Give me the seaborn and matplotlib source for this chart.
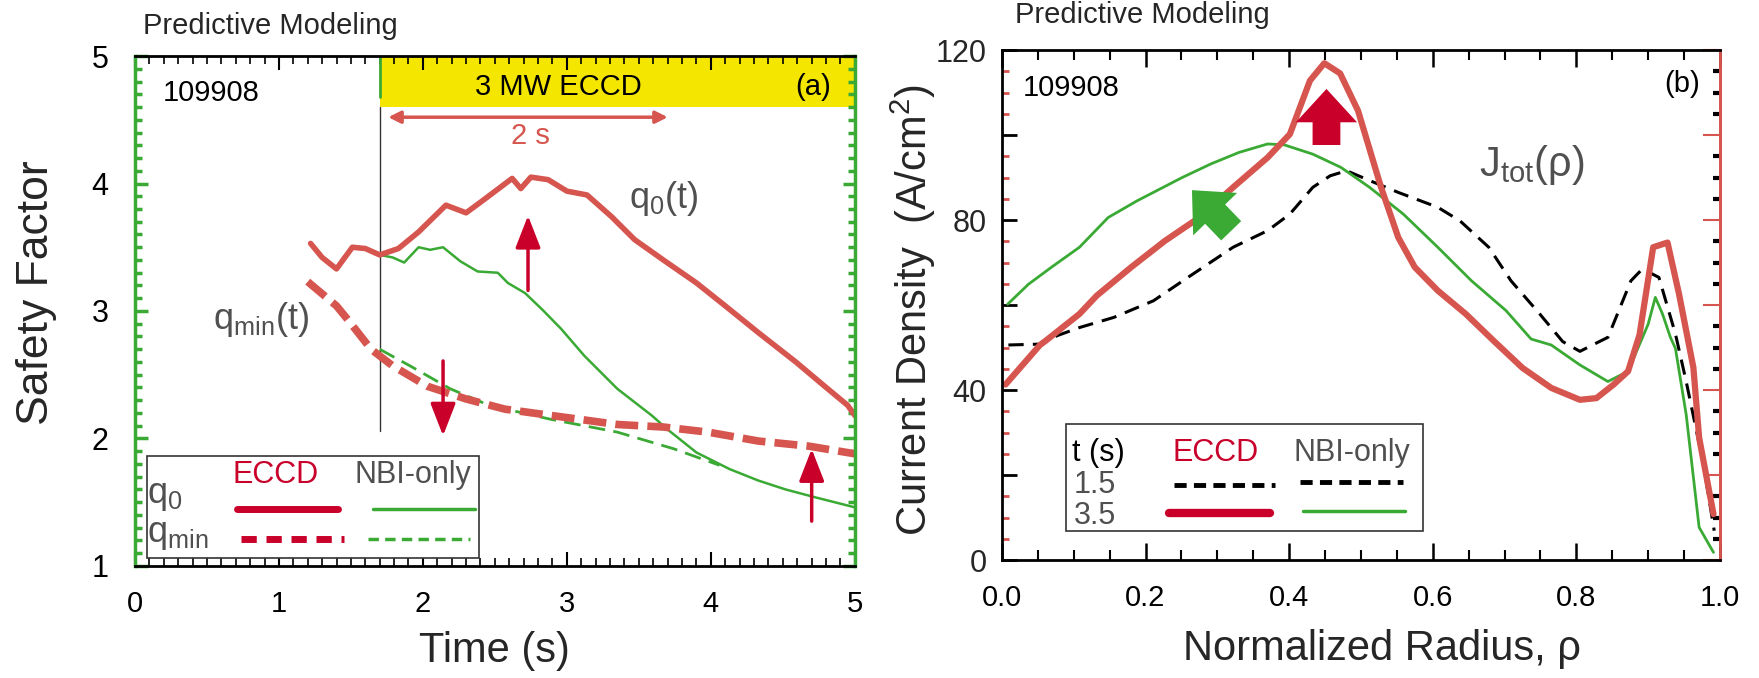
import numpy as np
import pandas as pd
import matplotlib
matplotlib.use("Agg")
import matplotlib.pyplot as plt
import seaborn as sns
from matplotlib.ticker import MultipleLocator, FixedLocator, FormatStrFormatter
from matplotlib.patches import Rectangle

# ---- data ----
# panel (a): safety factor vs time
t_q0_eccd = [1.22, 1.30, 1.40, 1.51, 1.60, 1.70, 1.83, 1.97, 2.16, 2.30, 2.42, 2.62, 2.68,
             2.75, 2.87, 3.00, 3.14, 3.31, 3.47, 3.67, 3.90, 4.10, 4.33, 4.59, 4.79, 4.95, 5.00]
q0_eccd = [3.53, 3.42, 3.33, 3.50, 3.49, 3.44, 3.49, 3.62, 3.83, 3.77, 3.87, 4.04, 3.96,
           4.05, 4.03, 3.94, 3.91, 3.74, 3.56, 3.40, 3.22, 3.04, 2.83, 2.60, 2.41, 2.26, 2.18]
t_q0_nbi = [1.70, 1.79, 1.87, 1.97, 2.05, 2.14, 2.26, 2.38, 2.52, 2.59, 2.71, 2.83, 2.96,
            3.12, 3.35, 3.59, 3.70, 3.90, 4.13, 4.33, 4.52, 4.72, 5.00]
q0_nbi = [3.44, 3.42, 3.38, 3.50, 3.48, 3.50, 3.39, 3.31, 3.30, 3.22, 3.14, 3.01, 2.86,
          2.65, 2.39, 2.18, 2.07, 1.89, 1.76, 1.67, 1.60, 1.54, 1.46]
t_qmin_eccd = [1.20, 1.40, 1.48, 1.64, 1.79, 2.03, 2.30, 2.57, 2.96, 3.35, 3.67, 3.98, 4.33, 4.68, 5.00]
qmin_eccd = [3.23, 3.04, 2.93, 2.70, 2.57, 2.41, 2.31, 2.23, 2.17, 2.11, 2.09, 2.05, 1.98, 1.94, 1.88]
t_qmin_nbi = [1.70, 1.91, 2.19, 2.46, 2.89, 3.35, 3.74, 4.06]
qmin_nbi = [2.70, 2.57, 2.39, 2.26, 2.15, 2.05, 1.92, 1.79]

eccd_on = 1.70
eccd_off = 5.0

# panel (b): current density profiles
rho_eccd35 = [0.005, 0.053, 0.061, 0.108, 0.132, 0.180, 0.227, 0.275, 0.322, 0.370, 0.401, 0.429,
              0.449, 0.471, 0.496, 0.528, 0.552, 0.575, 0.607, 0.646, 0.670, 0.686, 0.725, 0.765,
              0.805, 0.828, 0.852, 0.872, 0.888, 0.907, 0.927, 0.943, 0.963, 0.971, 0.991]
j_eccd35 = [41.3, 50.6, 51.6, 57.9, 62.2, 68.9, 75.1, 80.6, 87.7, 94.7, 100.2, 112.8,
            116.9, 114.5, 105.7, 87.7, 75.9, 68.9, 63.4, 57.9, 54.0, 51.4, 45.2, 40.5,
            37.7, 38.1, 41.3, 44.4, 53.0, 73.6, 74.7, 62.6, 45.3, 28.8, 10.8]
rho_nbi35 = [0.008, 0.037, 0.069, 0.108, 0.148, 0.188, 0.251, 0.291, 0.330, 0.370, 0.393, 0.433,
             0.472, 0.512, 0.559, 0.607, 0.654, 0.702, 0.737, 0.765, 0.805, 0.844, 0.872, 0.900,
             0.910, 0.920, 0.931, 0.938, 0.953, 0.971, 0.991]
j_nbi35 = [60.2, 64.9, 68.9, 73.6, 80.6, 84.5, 90.0, 93.2, 95.9, 97.9, 97.7, 95.5,
           92.4, 87.7, 81.4, 73.6, 65.7, 58.7, 52.0, 50.6, 45.9, 42.0, 44.4, 55.5,
           61.8, 57.9, 52.4, 49.8, 34.2, 7.7, 1.8]
rho_15 = [0.009, 0.053, 0.077, 0.108, 0.156, 0.211, 0.259, 0.322, 0.370, 0.401, 0.433, 0.457,
          0.480, 0.512, 0.552, 0.607, 0.638, 0.678, 0.709, 0.749, 0.781, 0.805, 0.832, 0.844,
          0.876, 0.892, 0.915, 0.938, 0.953, 0.977, 0.992]
j_15 = [50.6, 50.8, 52.8, 54.7, 57.1, 61.0, 66.5, 73.6, 77.5, 81.4, 87.7, 90.4,
        91.6, 89.3, 86.5, 83.0, 79.8, 73.6, 65.7, 57.9, 51.4, 49.1, 51.4, 52.4,
        65.7, 68.5, 66.5, 53.2, 42.0, 22.5, 6.9]

a_yticks = [1, 2, 3, 4, 5]
a_xticks = [0, 1, 2, 3, 4, 5]
b_yticks = [0, 40, 80, 120]
b_xticks = [0.0, 0.2, 0.4, 0.6, 0.8, 1.0]

# ---- style ----
sns.set_theme(style="ticks")
plt.rcParams["font.family"] = ["Liberation Sans", "DejaVu Sans"]
plt.rcParams["mathtext.fontset"] = "custom"
plt.rcParams["mathtext.rm"] = "Liberation Sans"
plt.rcParams["mathtext.it"] = "Liberation Sans"
plt.rcParams["mathtext.default"] = "rm"

RED = "#d6564f"
CRIMSON = "#c8002a"
GREEN = "#3aaa35"
GRAY = "#505050"
YELLOW = "#f5e600"

fig = plt.figure(figsize=(17.59, 6.78), dpi=100)
ax1 = fig.add_axes([0.0767, 0.1652, 0.4093, 0.7522])
ax2 = fig.add_axes([0.5696, 0.1740, 0.4082, 0.7522])

# ---- panel (a) ----
df_a = pd.concat([
    pd.DataFrame({"t": t_q0_eccd, "q": q0_eccd, "s": "q0 ECCD"}),
    pd.DataFrame({"t": t_q0_nbi, "q": q0_nbi, "s": "q0 NBI"}),
    pd.DataFrame({"t": t_qmin_eccd, "q": qmin_eccd, "s": "qmin ECCD"}),
    pd.DataFrame({"t": t_qmin_nbi, "q": qmin_nbi, "s": "qmin NBI"}),
])

ax1.axvspan(eccd_on, eccd_off, ymin=(4.60 - 1) / 4, ymax=1, color=YELLOW, lw=0, zorder=0)
ax1.plot([eccd_on, eccd_on], [2.06, 4.60], color="#333333", lw=1)
ax1.plot([eccd_on, eccd_on], [4.68, 5.0], color=GREEN, lw=2)

sns.lineplot(data=df_a[df_a.s == "qmin NBI"], x="t", y="q", ax=ax1, color=GREEN, lw=2,
             linestyle=(0, (6, 3)), sort=False, estimator=None)
sns.lineplot(data=df_a[df_a.s == "q0 NBI"], x="t", y="q", ax=ax1, color=GREEN, lw=1.8,
             sort=False, estimator=None)
sns.lineplot(data=df_a[df_a.s == "qmin ECCD"], x="t", y="q", ax=ax1, color=RED, lw=5.5,
             linestyle=(0, (3, 1.2)), sort=False, estimator=None)
sns.lineplot(data=df_a[df_a.s == "q0 ECCD"], x="t", y="q", ax=ax1, color=RED, lw=4,
             sort=False, estimator=None)

ax1.set_xlim(0, 5)
ax1.set_ylim(1, 5)

ax1.text(2.94, 4.76, "3 MW ECCD", ha="center", va="center", fontsize=21, color="black")
ax1.text(4.71, 4.76, "(a)", ha="center", va="center", fontsize=21, color="black")
ax1.text(0.19, 4.71, "109908", ha="left", va="center", fontsize=21, color="black")
ax1.annotate("", xy=(1.74, 4.52), xytext=(3.72, 4.52),
             arrowprops=dict(arrowstyle="<|-|>", color=RED, lw=2.5, mutation_scale=18))
ax1.text(2.75, 4.37, "2 s", ha="center", va="center", fontsize=21, color=RED)

ax1.text(3.43, 3.88, r"$\mathrm{q_0(t)}$", ha="left", va="center", fontsize=26, color=GRAY)
ax1.text(0.54, 2.93, r"$\mathrm{q_{min}(t)}$", ha="left", va="center", fontsize=26, color=GRAY)

arr = dict(arrowstyle="-|>,head_length=0.9,head_width=0.35", color=CRIMSON, lw=2.5, mutation_scale=22)
ax1.annotate("", xy=(2.73, 3.77), xytext=(2.73, 3.14), arrowprops=arr)
ax1.annotate("", xy=(2.14, 2.0), xytext=(2.14, 2.63), arrowprops=arr)
ax1.annotate("", xy=(4.70, 1.94), xytext=(4.70, 1.33), arrowprops=arr)

# legend box (a)
ax1.add_patch(Rectangle((0.017, 0.016), 0.461, 0.200, transform=ax1.transAxes,
                        fill=True, facecolor="white", edgecolor="#333333", lw=1.2, zorder=5))
ax1.text(0.196, 0.178, "ECCD", transform=ax1.transAxes, ha="center", va="center",
         fontsize=22, color=CRIMSON, zorder=6)
ax1.text(0.386, 0.178, "NBI-only", transform=ax1.transAxes, ha="center", va="center",
         fontsize=22, color=GRAY, zorder=6)
ax1.text(0.017, 0.138, r"$\mathrm{q_0}$", transform=ax1.transAxes, ha="left", va="center",
         fontsize=26, color=GRAY, zorder=6)
ax1.text(0.017, 0.062, r"$\mathrm{q_{min}}$", transform=ax1.transAxes, ha="left", va="center",
         fontsize=26, color=GRAY, zorder=6)
ax1.plot([0.142, 0.282], [0.112, 0.112], transform=ax1.transAxes, color=CRIMSON, lw=5, zorder=6)
ax1.plot([0.330, 0.472], [0.112, 0.112], transform=ax1.transAxes, color=GREEN, lw=2.5, zorder=6)
ax1.plot([0.148, 0.290], [0.053, 0.053], transform=ax1.transAxes, color=CRIMSON, lw=5,
         linestyle=(0, (2.2, 1.4)), zorder=6)
ax1.plot([0.324, 0.466], [0.053, 0.053], transform=ax1.transAxes, color=GREEN, lw=2.5,
         linestyle=(0, (3, 1.8)), zorder=6)

ax1.xaxis.set_major_locator(FixedLocator(a_xticks))
ax1.xaxis.set_minor_locator(MultipleLocator(0.1))
ax1.yaxis.set_major_locator(FixedLocator(a_yticks))
ax1.yaxis.set_minor_locator(MultipleLocator(0.1))
ax1.tick_params(axis="x", which="both", direction="in", top=True, bottom=True, colors="black",
                labelsize=21, pad=17)
ax1.tick_params(axis="x", which="major", length=10, width=1.5)
ax1.tick_params(axis="x", which="minor", length=6, width=1.2)
ax1.tick_params(axis="y", which="both", direction="in", left=True, right=True, color=GREEN,
                labelcolor="black", labelsize=22, pad=19)
ax1.tick_params(axis="y", which="major", length=9, width=2.5)
ax1.tick_params(axis="y", which="minor", length=5, width=2.5)
for side in ["left", "right"]:
    ax1.spines[side].set_color(GREEN)
    ax1.spines[side].set_linewidth(2.5)
for side in ["top", "bottom"]:
    ax1.spines[side].set_color("black")
    ax1.spines[side].set_linewidth(2)
ax1.set_xlabel("Time (s)", fontsize=30)
ax1.xaxis.set_label_coords(0.5, -0.128)
ax1.set_ylabel("Safety Factor", fontsize=32)
ax1.yaxis.set_label_coords(-0.108, 0.535)

# ---- panel (b) ----
df_b = pd.concat([
    pd.DataFrame({"rho": rho_15, "j": j_15, "s": "1.5"}),
    pd.DataFrame({"rho": rho_nbi35, "j": j_nbi35, "s": "3.5 NBI"}),
    pd.DataFrame({"rho": rho_eccd35, "j": j_eccd35, "s": "3.5 ECCD"}),
])
sns.lineplot(data=df_b[df_b.s == "1.5"], x="rho", y="j", ax=ax2, color="black", lw=2.2,
             linestyle=(0, (5, 3)), sort=False, estimator=None)
sns.lineplot(data=df_b[df_b.s == "3.5 NBI"], x="rho", y="j", ax=ax2, color=GREEN, lw=2,
             sort=False, estimator=None)
sns.lineplot(data=df_b[df_b.s == "3.5 ECCD"], x="rho", y="j", ax=ax2, color=RED, lw=4.5,
             sort=False, estimator=None)
ax2.set_xlim(0, 1)
ax2.set_ylim(0, 120)

ax2.text(0.029, 111, "109908", ha="left", va="center", fontsize=21, color="black")
ax2.text(0.947, 112, "(b)", ha="center", va="center", fontsize=21, color="black")
ax2.text(0.664, 93, r"$\mathrm{J_{tot}(ρ)}$", ha="left", va="center", fontsize=30, color=GRAY)

fat = "simple,head_length=0.6,head_width=1.1,tail_width=0.5"
ax2.annotate("", xy=(0.452, 111.5), xytext=(0.452, 97),
             arrowprops=dict(arrowstyle=fat, color=CRIMSON, lw=0, mutation_scale=40))
ax2.annotate("", xy=(0.262, 87.5), xytext=(0.322, 77),
             arrowprops=dict(arrowstyle=fat, color=GREEN, lw=0, mutation_scale=40))

# legend box (b)
ax2.add_patch(Rectangle((0.089, 0.0575), 0.498, 0.2085, transform=ax2.transAxes,
                        fill=True, facecolor="white", edgecolor="#333333", lw=1.2, zorder=5))
ax2.text(0.098, 0.21, "t (s)", transform=ax2.transAxes, ha="left", va="center",
         fontsize=22, color="black", zorder=6)
ax2.text(0.298, 0.21, "ECCD", transform=ax2.transAxes, ha="center", va="center",
         fontsize=22, color=CRIMSON, zorder=6)
ax2.text(0.488, 0.21, "NBI-only", transform=ax2.transAxes, ha="center", va="center",
         fontsize=22, color=GRAY, zorder=6)
ax2.text(0.100, 0.148, "1.5", transform=ax2.transAxes, ha="left", va="center",
         fontsize=22, color=GRAY, zorder=6)
ax2.text(0.100, 0.087, "3.5", transform=ax2.transAxes, ha="left", va="center",
         fontsize=22, color=GRAY, zorder=6)
ax2.plot([0.239, 0.381], [0.148, 0.148], transform=ax2.transAxes, color="black", lw=3.5,
         linestyle=(0, (2.5, 1.5)), zorder=6)
ax2.plot([0.415, 0.558], [0.153, 0.153], transform=ax2.transAxes, color="black", lw=3.5,
         linestyle=(0, (2.5, 1.5)), zorder=6)
ax2.plot([0.233, 0.374], [0.093, 0.093], transform=ax2.transAxes, color=CRIMSON, lw=6, zorder=6)
ax2.plot([0.420, 0.561], [0.097, 0.097], transform=ax2.transAxes, color=GREEN, lw=2.5, zorder=6)

ax2.xaxis.set_major_locator(FixedLocator(b_xticks))
ax2.xaxis.set_minor_locator(MultipleLocator(0.05))
ax2.xaxis.set_major_formatter(FormatStrFormatter("%.1f"))
ax2.yaxis.set_major_locator(MultipleLocator(20))
ax2.yaxis.set_minor_locator(MultipleLocator(5))
ax2.yaxis.set_major_formatter(lambda v, p: f"{int(v)}" if int(v) in b_yticks else "")
ax2.tick_params(axis="x", which="both", direction="in", top=True, bottom=True, colors="black",
                labelsize=21, pad=17)
ax2.tick_params(axis="x", which="major", length=12, width=1.8)
ax2.tick_params(axis="x", which="minor", length=7, width=1.5)
ax2.tick_params(axis="y", which="major", direction="in", left=True, right=False, color="black",
                length=11, width=2, labelsize=22, pad=11)
ax2.tick_params(axis="y", which="minor", direction="in", left=True, right=False, color=RED,
                length=5, width=2)
ax2.spines["left"].set_color("black")
ax2.spines["left"].set_linewidth(2)
ax2.spines["right"].set_color(RED)
ax2.spines["right"].set_linewidth(2)
for side in ["top", "bottom"]:
    ax2.spines[side].set_color("black")
    ax2.spines[side].set_linewidth(2)

ax2r = ax2.secondary_yaxis("right")
ax2r.yaxis.set_major_locator(MultipleLocator(20))
ax2r.yaxis.set_minor_locator(MultipleLocator(5))
ax2r.spines["right"].set_color(RED)
ax2r.spines["right"].set_linewidth(2)
ax2r.tick_params(axis="y", which="major", direction="in", color=RED, length=12, width=1.5,
                 labelright=False)
ax2r.tick_params(axis="y", which="minor", direction="in", color="black", length=5, width=3)

ax2.set_xlabel("Normalized Radius, ρ", fontsize=30)
ax2.xaxis.set_label_coords(0.529, -0.136)
ax2.set_ylabel(r"Current Density  (A/cm$^{2}$)", fontsize=30)
ax2.yaxis.set_label_coords(-0.089, 0.49)

fig.text(0.0813, 0.962, "Predictive Modeling", ha="left", va="center", fontsize=21)
fig.text(0.577, 0.978, "Predictive Modeling", ha="left", va="center", fontsize=21)

fig.savefig("out.png", dpi=100)
